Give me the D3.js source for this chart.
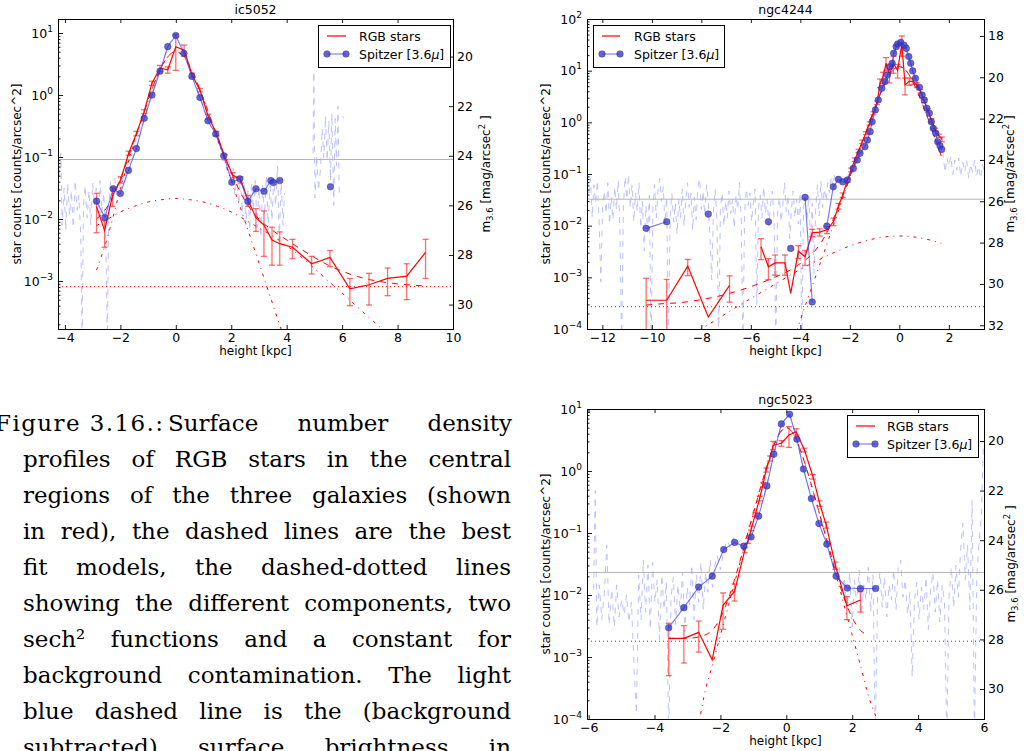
<!DOCTYPE html>
<html>
<head>
<meta charset="utf-8">
<script src="https://cdn.jsdelivr.net/npm/d3@7"></script>
<style>
  html, body { margin: 0; padding: 0; background: #fff; }
  svg { display: block; }
</style>
</head>
<body>
<svg id="fig" width="1025" height="751"></svg>
<script>
// ---------------------------------------------------------------------------
// Data: height [kpc]; RGB star counts [counts/arcsec^2] as [h, value, error];
// Spitzer 3.6 micron profiles in m_3.6 [mag/arcsec^2] (null = no value).
// ---------------------------------------------------------------------------

// ----- IC 5052 -----
const ic5052Rgb = [
  [-2.86, 0.016, 0.010], [-2.57, 0.0065, 0.003], [-2.28, 0.024, 0.008], [-1.99, 0.043, 0.005],
  [-1.70, 0.115, 0.009], [-1.42, 0.24, 0.02], [-1.14, 0.54, 0.04], [-0.86, 1.55, 0.12],
  [-0.57, 2.7, 0.3], [-0.29, 2.55, 0.3], [0.00, 6.0, 3.5], [0.30, 5.3, 1.1],
  [0.59, 2.1, 0.15], [0.87, 1.2, 0.08], [1.17, 0.45, 0.04], [1.47, 0.24, 0.02],
  [1.77, 0.10, 0.01], [2.05, 0.051, 0.005], [2.34, 0.043, 0.005], [2.61, 0.020, 0.004],
  [2.89, 0.0105, 0.0042], [3.18, 0.0080, 0.0055], [3.47, 0.0046, 0.0028], [3.75, 0.0040, 0.0022],
  [4.21, 0.0035, 0.0012], [4.90, 0.0019, 0.0006], [5.56, 0.0024, 0.0007], [6.28, 0.00075, 0.00035],
  [6.97, 0.00087, 0.00046], [7.64, 0.0011, 0.00052], [8.33, 0.0012, 0.0007], [9.01, 0.0029, 0.0018]
];
const ic5052Spitzer = [
  [-2.86, 25.83], [-2.56, 26.49], [-2.26, 25.33], [-2.00, 25.52], [-1.71, 24.59], [-1.42, 23.71],
  [-1.14, 22.49], [-0.86, 21.55], [-0.57, 20.59], [-0.29, 19.60], [0.00, 19.15], [0.29, 19.87],
  [0.58, 20.80], [0.87, 21.65], [1.16, 22.59], [1.44, 23.12], [1.73, 24.00], [2.02, 25.07],
  [2.31, 24.93], [2.60, 25.84], [2.89, 25.33], [3.18, 25.43], [3.43, 25.00], [3.52, 25.08],
  [3.75, 25.00], [4.60, null], [5.58, 25.25]
];
const ic5052Sb = [
  [-4.25, 23.6], [-4.20, 24.8], [-4.15, 23.9], [-4.10, 26.8], [-4.03, 25.3], [-3.97, 27.0],
  [-3.90, 25.1], [-3.83, 26.4], [-3.77, 25.4], [-3.70, 26.9], [-3.63, 25.0], [-3.56, 26.2],
  [-3.50, 25.6], [-3.43, 27.2], [-3.38, 31.5], [-3.33, 26.0], [-3.27, 25.2], [-3.20, 26.5],
  [-3.13, 25.4], [-3.07, 26.8], [-3.00, 25.1], [-2.93, 26.0], [-2.87, 25.3], [-2.80, 26.6],
  [-2.73, 25.0], [-2.67, 26.3], [-2.60, 25.5], [-2.53, 27.0], [-2.47, 31.5], [-2.42, 26.2],
  [-2.35, 25.0], [-2.28, 25.8], [-2.20, 24.9], [-2.13, 25.6], [-2.07, 24.8], [-2.00, 25.4],
  [-1.93, 24.9], [-1.85, 25.1], [-1.78, 24.7], [-1.70, 24.6], [-1.60, 24.3], [-1.50, 23.9],
  [-1.40, 23.6], [-1.20, 22.8], [-1.00, 22.0], [-0.80, 21.3], [-0.60, 20.6], [-0.40, 20.0],
  [-0.20, 19.4], [0.00, 19.1], [0.20, 19.5], [0.40, 20.2], [0.60, 20.8], [0.80, 21.4],
  [1.00, 22.0], [1.20, 22.7], [1.40, 23.1], [1.60, 23.6], [1.75, 24.1], [1.85, 24.6],
  [1.92, 24.2], [2.00, 25.1], [2.07, 24.5], [2.13, 25.6], [2.20, 24.8], [2.27, 26.0],
  [2.33, 24.9], [2.40, 26.3], [2.47, 25.2], [2.53, 26.8], [2.60, 25.4], [2.67, 27.0],
  [2.73, 25.1], [2.80, 26.2], [2.87, 25.0], [2.93, 26.9], [3.00, 25.3], [3.07, 27.3],
  [3.13, 25.2], [3.20, 26.4], [3.27, 24.8], [3.33, 27.0], [3.40, 25.0], [3.47, 26.6],
  [3.53, 24.9], [3.60, 26.0], [3.67, 24.4], [3.73, 27.4], [3.80, 25.1], [3.87, 26.8],
  [3.92, 25.5], [4.40, null], [4.95, 23.9], [4.98, 20.6], [5.02, 25.7], [5.08, 24.0],
  [5.15, 25.4], [5.22, 24.5], [5.28, 22.9], [5.34, 24.1], [5.40, 22.4], [5.46, 24.2],
  [5.52, 22.6], [5.58, 25.0], [5.63, 22.3], [5.70, 26.0], [5.75, 22.5], [5.80, 24.4],
  [5.85, 22.0], [5.90, 25.7], [5.96, null], [6.02, 22.4], [6.06, 22.5]
];
const ic5052FitTotal = [
  [-2.86, 0.010], [-2.5, 0.015], [-2.0, 0.044], [-1.5, 0.187], [-1.0, 0.82], [-0.75, 1.67],
  [-0.5, 2.93], [-0.25, 4.35], [0.0, 5.02], [0.25, 4.35], [0.5, 2.93], [0.75, 1.67],
  [1.0, 0.863], [1.5, 0.21], [2.0, 0.056], [2.5, 0.0196], [3.0, 0.010], [3.5, 0.0065],
  [4.0, 0.0046], [4.5, 0.0033], [5.0, 0.0024], [5.5, 0.0018], [6.0, 0.00144], [6.5, 0.0012],
  [7.0, 0.00105], [7.5, 0.00096], [8.0, 0.0009], [8.5, 0.00086], [9.01, 0.00083]
];
const ic5052FitThin = [
  [-2.86, 0.0015], [-2.5, 0.0045], [-2.0, 0.030], [-1.5, 0.17], [-1.0, 0.80], [-0.75, 1.65],
  [-0.5, 2.91], [-0.25, 4.33], [0.0, 5.0], [0.25, 4.33], [0.5, 2.91], [0.75, 1.65],
  [1.0, 0.843], [1.5, 0.194], [2.0, 0.042], [2.5, 0.0091], [3.0, 0.00196], [3.5, 0.00042],
  [3.8, 0.000167], [3.95, 0.00011]
];
const ic5052FitThick = [
  [-2.86, 0.0078], [-2.5, 0.0097], [-2.0, 0.013], [-1.5, 0.016], [-1.0, 0.0188], [-0.5, 0.0205],
  [0.0, 0.0215], [0.5, 0.0205], [1.0, 0.0188], [1.5, 0.016], [2.0, 0.013], [2.5, 0.0097],
  [3.0, 0.0072], [3.5, 0.0053], [4.0, 0.0037], [4.5, 0.0025], [5.0, 0.0016], [5.5, 0.0010],
  [6.0, 0.00064], [6.5, 0.0004], [7.0, 0.00025], [7.5, 0.00016]
];
const ic5052Background = 0.00081;
const ic5052SbLimit = 24.15;

// ----- NGC 4244 -----
const ngc4244Rgb = [
  [-10.23, 0.00036, 0.0006], [-9.40, 0.00036, 0.00055], [-8.55, 0.00165, 0.00057], [-7.72, 0.00017, 0],
  [-6.86, 0.0007, 0.00037], [-6.20, null, 0],
  [-5.59, 0.0039, 0.0017], [-5.29, 0.0016, 0.0007], [-5.02, 0.0019, 0.0008], [-4.62, 0.0019, 0.0008],
  [-4.39, 0.00049, 0], [-4.08, 0.0032, 0.0009], [-3.81, 0.0025, 0.0008], [-3.52, 0.0073, 0.0012],
  [-3.22, 0.0075, 0.0012], [-2.93, 0.0083, 0.0013], [-2.66, 0.012, 0.002], [-2.46, 0.024, 0.003],
  [-2.29, 0.039, 0.004], [-2.10, 0.075, 0.006], [-1.95, 0.12, 0.01], [-1.80, 0.19, 0.015],
  [-1.65, 0.28, 0.02], [-1.50, 0.42, 0.03], [-1.35, 0.62, 0.04], [-1.20, 0.95, 0.07],
  [-1.05, 1.5, 0.1], [-0.90, 2.4, 0.2], [-0.78, 5.8, 1.1], [-0.66, 7.5, 1.8],
  [-0.54, 13.9, 4.0], [-0.40, 8.3, 2.5], [-0.24, 13.9, 5.0], [-0.07, 10.2, 3.0],
  [0.10, 33.0, 14.0], [0.23, 5.3, 1.9], [0.40, 6.2, 1.0], [0.55, 6.2, 0.8],
  [0.70, 5.3, 0.6], [0.85, 4.0, 0.3], [1.00, 2.6, 0.2], [1.15, 1.7, 0.13],
  [1.30, 1.1, 0.08], [1.45, 0.72, 0.05], [1.60, 0.55, 0.04], [1.72, 0.47, 0.05]
];
const ngc4244Spitzer = [
  [-10.23, 27.31], [-9.40, 26.99], [-8.50, null], [-7.72, 26.62], [-6.50, null], [-5.29, 26.99],
  [-4.80, null], [-4.39, 28.28], [-4.10, null], [-3.81, 25.81], [-3.52, 30.87], [-3.20, null],
  [-2.93, 27.20], [-2.67, 25.30], [-2.46, 24.94], [-2.29, 25.06], [-2.10, 24.97], [-1.86, 24.41],
  [-1.70, 24.00], [-1.59, 23.68], [-1.39, 23.36], [-1.29, 23.04], [-1.18, 22.63], [-1.10, 22.15],
  [-0.97, 21.58], [-0.85, 21.10], [-0.71, 20.53], [-0.58, 20.21], [-0.48, 19.89], [-0.38, 19.49],
  [-0.29, 19.32], [-0.23, 18.84], [-0.13, 18.52], [-0.07, 18.39], [0.06, 18.31], [0.19, 18.45],
  [0.28, 18.60], [0.38, 19.00], [0.46, 19.32], [0.54, 19.69], [0.65, 20.05], [0.81, 20.48],
  [0.92, 20.86], [1.01, 21.10], [1.11, 21.50], [1.21, 21.74], [1.29, 22.15], [1.37, 22.47],
  [1.47, 22.71], [1.55, 23.12], [1.64, 23.31], [1.71, 23.49]
];
const ngc4244Sb = [
  [-12.62, 24.4], [-12.55, 25.6], [-12.48, 24.9], [-12.41, 26.8], [-12.34, 25.2], [-12.27, 26.1],
  [-12.20, 25.0], [-12.13, 27.0], [-12.06, 29.9], [-11.99, 26.3], [-11.92, 25.5], [-11.85, 26.6],
  [-11.78, 25.1], [-11.71, 27.1], [-11.64, 25.8], [-11.57, 26.9], [-11.50, 25.3], [-11.43, 26.4],
  [-11.36, 25.0], [-11.29, 27.4], [-11.22, 33.0], [-11.15, 26.2], [-11.08, 24.8], [-11.01, 25.9],
  [-10.94, 24.7], [-10.87, 26.3], [-10.80, 25.2], [-10.73, 27.0], [-10.66, 25.6], [-10.59, 26.5],
  [-10.52, 25.1], [-10.45, 27.3], [-10.38, 26.0], [-10.31, 28.4], [-10.24, 26.2], [-10.17, 27.5],
  [-10.10, 25.7], [-10.03, 33.0], [-9.96, 26.4], [-9.89, 25.2], [-9.82, 26.8], [-9.75, 25.5],
  [-9.68, 24.9], [-9.61, 26.0], [-9.54, 25.3], [-9.47, 27.1], [-9.40, 25.8], [-9.33, 33.0],
  [-9.26, 26.7], [-9.19, 25.6], [-9.12, 27.0], [-9.05, 26.1], [-8.98, 27.6], [-8.91, 25.9],
  [-8.84, 26.8], [-8.77, 25.4], [-8.70, 27.2], [-8.63, 26.0], [-8.56, 25.1], [-8.49, 26.3],
  [-8.42, 25.6], [-8.35, 27.4], [-8.28, 25.8], [-8.21, 26.9], [-8.14, 25.3], [-8.07, 24.9],
  [-8.00, 26.4], [-7.93, 25.5], [-7.86, 26.7], [-7.79, 25.2], [-7.72, 26.0], [-7.65, 27.8],
  [-7.58, 29.8], [-7.51, 26.5], [-7.44, 25.4], [-7.37, 26.9], [-7.30, 33.0], [-7.23, 26.3],
  [-7.16, 25.6], [-7.09, 27.2], [-7.02, 26.0], [-6.95, 26.8], [-6.88, 25.5], [-6.81, 26.6],
  [-6.74, 25.9], [-6.67, 27.3], [-6.60, 25.7], [-6.53, 26.4], [-6.46, 25.1], [-6.39, 26.9],
  [-6.32, 33.0], [-6.25, 26.5], [-6.18, 25.4], [-6.11, 26.2], [-6.04, 25.6], [-5.97, 27.0],
  [-5.90, 26.1], [-5.83, 25.4], [-5.76, 31.0], [-5.69, 26.3], [-5.62, 25.7], [-5.55, 26.8],
  [-5.48, 25.3], [-5.41, 26.6], [-5.34, 25.9], [-5.27, 27.2], [-5.20, 26.1], [-5.13, 25.5],
  [-5.06, 26.9], [-4.99, 33.0], [-4.92, 26.6], [-4.85, 25.8], [-4.78, 27.0], [-4.71, 26.2],
  [-4.64, 25.1], [-4.57, 26.5], [-4.50, 25.7], [-4.43, 27.8], [-4.36, 26.4], [-4.29, 25.5],
  [-4.22, 26.8], [-4.15, 25.9], [-4.08, 27.1], [-4.01, 25.6], [-3.94, 33.0], [-3.87, 26.3],
  [-3.80, 25.8], [-3.73, 26.9], [-3.66, 25.7], [-3.59, 28.0], [-3.52, 26.1], [-3.45, 29.5],
  [-3.38, 26.4], [-3.31, 25.2], [-3.24, 26.7], [-3.17, 25.0], [-3.10, 26.3], [-3.03, 25.4],
  [-2.96, 26.0], [-2.89, 25.1], [-2.82, 25.6], [-2.75, 24.8], [-2.68, 25.3], [-2.61, 24.7],
  [-2.54, 25.0], [-2.47, 24.8], [-2.40, 25.1], [-2.30, 24.9], [-2.20, 25.0], [-2.10, 24.8],
  [-1.90, 24.5], [-1.70, 23.9], [-1.50, 23.3], [-1.30, 22.9], [-1.10, 22.1], [-0.90, 21.3],
  [-0.70, 20.5], [-0.50, 19.9], [-0.30, 19.2], [-0.10, 18.5], [0.05, 18.3], [0.20, 18.5],
  [0.40, 19.1], [0.60, 19.9], [0.80, 20.5], [1.00, 21.1], [1.20, 21.8], [1.40, 22.5],
  [1.60, 23.2], [1.75, 23.6], [1.85, 24.6], [1.92, 23.9], [2.00, 24.3], [2.08, 23.8],
  [2.16, 24.7], [2.24, 24.0], [2.32, 24.5], [2.40, 23.9], [2.48, 24.8], [2.56, 24.1],
  [2.64, 24.6], [2.72, 24.0], [2.80, 24.9], [2.88, 24.2], [2.96, 24.6], [3.04, 24.0],
  [3.12, 24.8], [3.20, 24.3], [3.28, 24.9], [3.36, 24.2], [3.42, 24.5]
];
const ngc4244FitTotal = [
  [-10.23, 0.00029], [-9.5, 0.00031], [-9.0, 0.00032], [-8.0, 0.00037], [-7.0, 0.00047],
  [-6.0, 0.00066], [-5.0, 0.00102], [-4.5, 0.00131], [-4.0, 0.00185], [-3.5, 0.0029],
  [-3.0, 0.0063], [-2.5, 0.0207], [-2.0, 0.088], [-1.5, 0.41], [-1.0, 1.87], [-0.5, 6.76],
  [-0.25, 10.3], [0.0, 12.0], [0.25, 10.3], [0.5, 6.76], [1.0, 1.87], [1.5, 0.41], [1.75, 0.189]
];
const ngc4244FitThin = [
  [-4.15, 0.00009], [-4.0, 0.00015], [-3.5, 0.00072], [-3.0, 0.0035], [-2.5, 0.0172],
  [-2.0, 0.0835], [-1.5, 0.405], [-1.0, 1.86], [-0.5, 6.75], [-0.25, 10.3], [0.0, 12.0],
  [0.25, 10.3], [0.5, 6.75], [1.0, 1.86], [1.5, 0.405], [1.75, 0.184]
];
const ngc4244FitThick = [
  [-8.1, 0.000094], [-7.5, 0.000141], [-7.0, 0.0002], [-6.5, 0.00028], [-6.0, 0.00039],
  [-5.5, 0.00054], [-5.0, 0.00075], [-4.5, 0.00104], [-4.0, 0.00143], [-3.5, 0.0019],
  [-3.0, 0.0025], [-2.5, 0.00323], [-2.0, 0.00405], [-1.5, 0.00487], [-1.0, 0.0056],
  [-0.5, 0.00612], [0.0, 0.0063], [0.5, 0.00612], [1.0, 0.0056], [1.5, 0.00487], [1.7, 0.00455]
];
const ngc4244Background = 0.00027;
const ngc4244SbLimit = 25.9;

// ----- NGC 5023 -----
const ngc5023Rgb = [
  [-3.57, 0.0020, 0.0015], [-3.11, 0.0020, 0.0012], [-2.66, 0.0025, 0.0013], [-2.25, 0.0009, 0],
  [-1.92, 0.0068, 0.0040], [-1.57, 0.0115, 0.0035], [-1.26, 0.053, 0.005], [-1.16, 0.075, 0.007],
  [-1.06, 0.119, 0.01], [-0.94, 0.2, 0.015], [-0.81, 0.36, 0.03], [-0.71, 0.6, 0.05],
  [-0.61, 1.04, 0.08], [-0.50, 1.6, 0.15], [-0.40, 2.6, 0.4], [-0.15, 2.8, 0.3],
  [0.08, 3.8, 1.4], [0.30, 4.3, 0.5], [0.55, 2.18, 0.15], [0.81, 0.81, 0.07],
  [1.01, 0.30, 0.03], [1.21, 0.135, 0.015], [1.49, 0.030, 0.004], [1.84, 0.0067, 0.0027],
  [2.25, 0.0083, 0.003]
];
const ngc5023Spitzer = [
  [-3.57, 27.53], [-3.11, 26.72], [-2.66, 25.89], [-2.25, 25.45], [-1.90, 24.38], [-1.57, 24.09],
  [-1.29, 24.24], [-1.07, 23.87], [-0.84, 23.03], [-0.59, 21.81], [-0.38, 20.53], [-0.15, 19.31],
  [0.10, 18.92], [0.32, 19.93], [0.52, 21.13], [0.76, 22.32], [0.99, 23.33], [1.23, 24.16],
  [1.51, 25.45], [1.85, 25.93], [2.25, 25.95], [2.71, 25.95]
];
const ngc5023Sb = [
  [-5.85, 26.0], [-5.80, 22.0], [-5.75, 27.5], [-5.68, 25.8], [-5.60, 27.2], [-5.52, 26.1],
  [-5.45, 24.2], [-5.38, 27.4], [-5.30, 26.0], [-5.22, 27.5], [-5.15, 25.8], [-5.08, 27.1],
  [-5.00, 26.4], [-4.92, 27.0], [-4.85, 26.2], [-4.78, 27.3], [-4.70, 26.5], [-4.62, 29.2],
  [-4.55, 31.0], [-4.48, 25.4], [-4.41, 27.2], [-4.34, 24.8], [-4.27, 26.9], [-4.20, 25.0],
  [-4.13, 27.6], [-4.06, 24.9], [-3.99, 26.5], [-3.92, 25.6], [-3.85, 28.0], [-3.78, 25.4],
  [-3.71, 26.8], [-3.64, 25.7], [-3.57, 32.0], [-3.50, 26.3], [-3.43, 25.5], [-3.36, 27.4],
  [-3.29, 25.8], [-3.22, 26.9], [-3.15, 25.3], [-3.08, 27.7], [-3.01, 25.9], [-2.94, 26.6],
  [-2.87, 25.0], [-2.80, 27.2], [-2.73, 25.4], [-2.66, 26.5], [-2.59, 24.9], [-2.52, 26.8],
  [-2.45, 25.3], [-2.38, 26.1], [-2.31, 24.8], [-2.24, 25.9], [-2.17, 25.0], [-2.10, 24.6],
  [-2.00, 25.2], [-1.90, 24.4], [-1.80, 24.0], [-1.70, 24.3], [-1.60, 23.9], [-1.50, 24.2],
  [-1.40, 24.0], [-1.30, 24.3], [-1.20, 24.0], [-1.10, 23.8], [-0.95, 23.4], [-0.80, 22.8],
  [-0.60, 21.8], [-0.40, 20.6], [-0.20, 19.6], [0.00, 19.0], [0.10, 18.95], [0.30, 19.8],
  [0.50, 21.0], [0.70, 22.0], [0.90, 22.9], [1.10, 23.7], [1.30, 24.5], [1.50, 25.4],
  [1.60, 25.0], [1.68, 26.2], [1.76, 25.5], [1.84, 26.8], [1.92, 25.3], [2.00, 27.5],
  [2.07, 25.6], [2.14, 26.6], [2.21, 25.2], [2.28, 27.0], [2.35, 25.8], [2.42, 26.4],
  [2.49, 25.1], [2.56, 26.9], [2.63, 25.4], [2.70, 32.0], [2.77, 26.2], [2.84, 25.3],
  [2.91, 26.7], [2.98, 25.5], [3.05, 27.1], [3.12, 25.8], [3.19, 26.4], [3.26, 25.2],
  [3.33, 26.8], [3.40, 25.0], [3.47, 24.8], [3.54, 26.3], [3.61, 25.6], [3.68, 27.0],
  [3.75, 26.1], [3.82, 29.5], [3.89, 26.4], [3.96, 25.7], [4.03, 27.2], [4.10, 25.9],
  [4.17, 26.8], [4.24, 25.5], [4.31, 27.6], [4.38, 26.0], [4.45, 25.3], [4.52, 26.9],
  [4.59, 25.6], [4.66, 27.3], [4.73, 25.8], [4.80, 26.5], [4.87, 32.0], [4.94, 26.2],
  [5.01, 25.1], [5.08, 26.7], [5.15, 25.0], [5.22, 26.3], [5.29, 24.4], [5.36, 23.3],
  [5.43, 25.6], [5.50, 24.2], [5.57, 26.8], [5.64, 22.4], [5.71, 32.0], [5.78, 25.5],
  [5.85, 24.1], [5.92, 23.0], [5.98, 20.0]
];
const ngc5023FitTotal = [
  [-3.57, 0.0020], [-3.0, 0.0020], [-2.5, 0.00223], [-2.25, 0.0027], [-2.0, 0.0043],
  [-1.75, 0.009], [-1.5, 0.0238], [-1.25, 0.07], [-1.0, 0.21], [-0.75, 0.62], [-0.5, 1.69],
  [-0.25, 3.68], [0.0, 5.0], [0.25, 3.68], [0.5, 1.69], [0.75, 0.62], [1.0, 0.21],
  [1.25, 0.07], [1.5, 0.0238], [1.75, 0.009], [2.0, 0.0043], [2.25, 0.0027], [2.52, 0.0022]
];
const ngc5023FitThin = [
  [-2.6, 0.00012], [-2.5, 0.00023], [-2.25, 0.00073], [-2.0, 0.00225], [-1.75, 0.007],
  [-1.5, 0.0218], [-1.25, 0.068], [-1.0, 0.208], [-0.75, 0.62], [-0.5, 1.69], [-0.25, 3.68],
  [0.0, 5.0], [0.25, 3.68], [0.5, 1.69], [0.75, 0.62], [1.0, 0.208], [1.25, 0.068],
  [1.5, 0.0218], [1.75, 0.007], [2.0, 0.00225], [2.25, 0.00073], [2.5, 0.00023], [2.72, 0.00011]
];
const ngc5023FitThick = [];
const ngc5023Background = 0.0018;
const ngc5023SbLimit = 25.3;

// Tick values
const ic5052HeightTicks = [-4, -2, 0, 2, 4, 6, 8, 10];
const ngc4244HeightTicks = [-12, -10, -8, -6, -4, -2, 0, 2];
const ngc5023HeightTicks = [-6, -4, -2, 0, 2, 4, 6];
const ic5052CountExps = [-3, -2, -1, 0, 1];
const ngc4244CountExps = [-4, -3, -2, -1, 0, 1, 2];
const ngc5023CountExps = [-4, -3, -2, -1, 0, 1];
const ic5052MagTicks = [20, 22, 24, 26, 28, 30];
const ngc4244MagTicks = [18, 20, 22, 24, 26, 28, 30, 32];
const ngc5023MagTicks = [20, 22, 24, 26, 28, 30];

// Caption
const captionText = [
  "Figure 3.16.: Surface number density",
  "profiles of RGB stars in the central",
  "regions of the three galaxies (shown",
  "in red), the dashed lines are the best",
  "fit models, the dashed-dotted lines",
  "showing the different components, two",
  "sech\u00B2 functions and a constant for",
  "background contamination. The light",
  "blue dashed line is the (background",
  "subtracted) surface brightness in"
];

// ---------------------------------------------------------------------------
// Panel layout
// ---------------------------------------------------------------------------
const panels = [
  {
    name: "ic5052", frame: { x: 58, y: 19, w: 395, h: 310 },
    xDomain: [-4.25, 10], yDomain: [Math.pow(10, -3.774), Math.pow(10, 1.226)], zp: 21.55,
    xTicks: ic5052HeightTicks, yExps: ic5052CountExps, magTicks: ic5052MagTicks,
    rgb: ic5052Rgb, spitzer: ic5052Spitzer, sb: ic5052Sb,
    fitTotal: ic5052FitTotal, fitThin: ic5052FitThin, fitThick: ic5052FitThick,
    background: ic5052Background, sbLimit: ic5052SbLimit,
    titleY: 14, xLabelY: 355, yLabelX: 21, magLabelX: 490,
    legend: { x: 318, y: 25, w: 132, h: 42, s0: 327, s1: 346, tx: 359 }
  },
  {
    name: "ngc4244", frame: { x: 587, y: 19, w: 397, h: 310 },
    xDomain: [-12.62, 3.42], yDomain: [1e-4, 1e2], zp: 22.18,
    xTicks: ngc4244HeightTicks, yExps: ngc4244CountExps, magTicks: ngc4244MagTicks,
    rgb: ngc4244Rgb, spitzer: ngc4244Spitzer, sb: ngc4244Sb,
    fitTotal: ngc4244FitTotal, fitThin: ngc4244FitThin, fitThick: ngc4244FitThick,
    background: ngc4244Background, sbLimit: ngc4244SbLimit,
    titleY: 14, xLabelY: 355, yLabelX: 550, magLabelX: 1014,
    legend: { x: 593, y: 25, w: 131, h: 42, s0: 602, s1: 620, tx: 634 }
  },
  {
    name: "ngc5023", frame: { x: 587, y: 409, w: 397, h: 310 },
    xDomain: [-6.05, 6], yDomain: [1e-4, 1e1], zp: 21.21,
    xTicks: ngc5023HeightTicks, yExps: ngc5023CountExps, magTicks: ngc5023MagTicks,
    rgb: ngc5023Rgb, spitzer: ngc5023Spitzer, sb: ngc5023Sb,
    fitTotal: ngc5023FitTotal, fitThin: ngc5023FitThin, fitThick: ngc5023FitThick,
    background: ngc5023Background, sbLimit: ngc5023SbLimit,
    titleY: 404, xLabelY: 745, yLabelX: 550, magLabelX: 1015,
    legend: { x: 847, y: 415, w: 131, h: 42, s0: 856, s1: 875, tx: 887 }
  }
];

const SANS = "'DejaVu Sans', 'Bitstream Vera Sans', sans-serif";
const RED = "#ff0000";
const BLUE_LINE = "#3c3cf5";
const BLUE_DOT = "#3a3acb";
const SB_BLUE = "#b6baff";

const fig = d3.select("#fig");
const defs = fig.append("defs");

function minusFmt(d) { return d < 0 ? "\u2212" + Math.abs(d) : String(d); }

function styleAxis(g) {
  g.select(".domain").remove();
  g.attr("font-family", SANS).attr("font-size", 12.5);
  g.selectAll(".tick line").attr("stroke", "#000").attr("stroke-width", 0.9);
  g.selectAll(".tick text").attr("fill", "#000");
}

function drawPanel(p, idx) {
  const fr = p.frame;
  const xs = d3.scaleLinear().domain(p.xDomain).range([fr.x, fr.x + fr.w]);
  const ys = d3.scaleLog().domain(p.yDomain).range([fr.y + fr.h, fr.y]);
  const toMag = c => p.zp - 2.5 * Math.log10(c);
  const ms = d3.scaleLinear().domain([toMag(p.yDomain[1]), toMag(p.yDomain[0])]).range([fr.y, fr.y + fr.h]);

  const clipId = "clip-" + p.name;
  defs.append("clipPath").attr("id", clipId)
    .append("rect").attr("x", fr.x).attr("y", fr.y).attr("width", fr.w).attr("height", fr.h);

  const g = fig.append("g").attr("class", "panel " + p.name);
  const plot = g.append("g").attr("clip-path", `url(#${clipId})`);

  // background-subtracted surface brightness profile (light blue, dashed)
  const sbLine = d3.line().defined(d => d[1] !== null).x(d => xs(d[0])).y(d => ms(d[1]));
  plot.append("path").attr("d", sbLine(p.sb))
    .attr("fill", "none").attr("stroke", SB_BLUE).attr("stroke-width", 0.9)
    .attr("stroke-dasharray", "6,6");

  // surface brightness limit (grey)
  plot.append("line")
    .attr("x1", fr.x).attr("x2", fr.x + fr.w)
    .attr("y1", ms(p.sbLimit)).attr("y2", ms(p.sbLimit))
    .attr("stroke", "#b4b4b4").attr("stroke-width", 1);

  // constant background contamination (dotted)
  plot.append("line")
    .attr("x1", fr.x).attr("x2", fr.x + fr.w)
    .attr("y1", ys(p.background)).attr("y2", ys(p.background))
    .attr("stroke", RED).attr("stroke-width", 1).attr("stroke-dasharray", "1,3");

  // model components (dash-dot) and total fit (dashed)
  const modelLine = d3.line().x(d => xs(d[0])).y(d => ys(d[1])).curve(d3.curveMonotoneX);
  [p.fitThin, p.fitThick].forEach(arr => {
    if (!arr.length) return;
    plot.append("path").attr("d", modelLine(arr))
      .attr("fill", "none").attr("stroke", RED).attr("stroke-width", 1)
      .attr("stroke-dasharray", "3,5,1,5");
  });
  plot.append("path").attr("d", modelLine(p.fitTotal))
    .attr("fill", "none").attr("stroke", RED).attr("stroke-width", 1)
    .attr("stroke-dasharray", "6,6");

  // RGB star counts with error bars
  const rgbPts = p.rgb.filter(d => d[1] !== null);
  const floor = p.yDomain[0] / 20;
  const eb = plot.append("g").attr("stroke", "#ff2a2a").attr("stroke-opacity", 0.68).attr("stroke-width", 1.3);
  rgbPts.filter(d => d[2] > 0).forEach(d => {
    const top = d[1] + d[2];
    const lowOk = d[1] - d[2] > 0;
    const bot = lowOk ? d[1] - d[2] : floor;
    const cx = xs(d[0]);
    eb.append("line").attr("x1", cx).attr("x2", cx).attr("y1", ys(top)).attr("y2", ys(bot));
    eb.append("line").attr("x1", cx - 3).attr("x2", cx + 3).attr("y1", ys(top)).attr("y2", ys(top));
    if (lowOk) eb.append("line").attr("x1", cx - 3).attr("x2", cx + 3).attr("y1", ys(bot)).attr("y2", ys(bot));
  });
  const rgbLine = d3.line().defined(d => d[1] !== null).x(d => xs(d[0])).y(d => ys(d[1]));
  plot.append("path").attr("d", rgbLine(p.rgb))
    .attr("fill", "none").attr("stroke", RED).attr("stroke-width", 1.2);

  // Spitzer 3.6 micron profile
  const spLine = d3.line().defined(d => d[1] !== null).x(d => xs(d[0])).y(d => ms(d[1]));
  plot.append("path").attr("d", spLine(p.spitzer))
    .attr("fill", "none").attr("stroke", BLUE_LINE).attr("stroke-opacity", 0.7).attr("stroke-width", 1.1);
  plot.append("g").selectAll("circle")
    .data(p.spitzer.filter(d => d[1] !== null))
    .join("circle")
    .attr("cx", d => xs(d[0])).attr("cy", d => ms(d[1])).attr("r", 3.3)
    .attr("fill", BLUE_DOT).attr("fill-opacity", 0.78)
    .attr("stroke", "#26268f").attr("stroke-opacity", 0.7).attr("stroke-width", 0.6);

  // frame
  g.append("rect").attr("x", fr.x + 0.5).attr("y", fr.y + 0.5).attr("width", fr.w).attr("height", fr.h)
    .attr("fill", "none").attr("stroke", "#000").attr("stroke-width", 1);

  // bottom axis
  const gB = g.append("g").attr("transform", `translate(0,${fr.y + fr.h})`)
    .call(d3.axisBottom(xs).tickValues(p.xTicks).tickSizeInner(-4).tickSizeOuter(0)
      .tickPadding(4).tickFormat(minusFmt));
  styleAxis(gB);
  // top axis (ticks only)
  const gT = g.append("g").attr("transform", `translate(0,${fr.y})`)
    .call(d3.axisTop(xs).tickValues(p.xTicks).tickSizeInner(-4).tickSizeOuter(0).tickFormat(""));
  styleAxis(gT);

  // left log axis
  const majors = p.yExps.map(e => Math.pow(10, e));
  const gL = g.append("g").attr("transform", `translate(${fr.x},0)`)
    .call(d3.axisLeft(ys).tickValues(majors).tickSizeInner(-5).tickSizeOuter(0).tickPadding(5));
  styleAxis(gL);
  gL.selectAll(".tick text").each(function (d) {
    const t = d3.select(this);
    const e = Math.round(Math.log10(d));
    t.text(null);
    t.append("tspan").text("10");
    t.append("tspan").attr("dy", -6).attr("font-size", 9).text(e < 0 ? "\u2212" + Math.abs(e) : String(e));
  });
  const minors = [];
  const lo = Math.floor(Math.log10(p.yDomain[0])), hi = Math.ceil(Math.log10(p.yDomain[1]));
  for (let k = lo; k <= hi; k++) {
    for (let m = 2; m <= 9; m++) {
      const v = m * Math.pow(10, k);
      if (v > p.yDomain[0] && v < p.yDomain[1]) minors.push(v);
    }
  }
  const gLm = g.append("g").attr("transform", `translate(${fr.x},0)`)
    .call(d3.axisLeft(ys).tickValues(minors).tickSizeInner(-2.5).tickSizeOuter(0).tickFormat(""));
  styleAxis(gLm);

  // right magnitude axis
  const gR = g.append("g").attr("transform", `translate(${fr.x + fr.w},0)`)
    .call(d3.axisRight(ms).tickValues(p.magTicks).tickSizeInner(-4).tickSizeOuter(0).tickPadding(4));
  styleAxis(gR);

  // title and axis labels
  const cx = fr.x + fr.w / 2, cy = fr.y + fr.h / 2;
  g.append("text").attr("x", cx).attr("y", p.titleY).attr("text-anchor", "middle")
    .attr("font-family", SANS).attr("font-size", 12.5).text(p.name);
  g.append("text").attr("x", cx).attr("y", p.xLabelY).attr("text-anchor", "middle")
    .attr("font-family", SANS).attr("font-size", 12).text("height [kpc]");
  g.append("text").attr("transform", `translate(${p.yLabelX},${cy}) rotate(-90)`)
    .attr("text-anchor", "middle").attr("font-family", SANS).attr("font-size", 12)
    .text("star counts [counts/arcsec^2]");
  const mt = g.append("text").attr("transform", `translate(${p.magLabelX},${cy}) rotate(-90)`)
    .attr("text-anchor", "middle").attr("font-family", SANS).attr("font-size", 12);
  mt.append("tspan").text("m");
  mt.append("tspan").attr("font-size", 8.5).attr("dy", 3).text("3.6");
  mt.append("tspan").attr("dy", -3).text(" [mag/arcsec");
  mt.append("tspan").attr("font-size", 8.5).attr("dy", -5).text("2");
  mt.append("tspan").attr("dy", 5).text(" ]");

  // legend
  const L = p.legend;
  const lg = g.append("g");
  lg.append("rect").attr("x", L.x + 0.5).attr("y", L.y + 0.5).attr("width", L.w).attr("height", L.h)
    .attr("fill", "#fff").attr("stroke", "#000").attr("stroke-width", 1);
  const r1 = L.y + 11, r2 = L.y + 29;
  lg.append("line").attr("x1", L.s0).attr("x2", L.s1).attr("y1", r1).attr("y2", r1)
    .attr("stroke", RED).attr("stroke-width", 1.2);
  lg.append("text").attr("x", L.tx).attr("y", r1 + 4.5).attr("font-family", SANS).attr("font-size", 12.5)
    .text("RGB stars");
  lg.append("line").attr("x1", L.s0).attr("x2", L.s1).attr("y1", r2).attr("y2", r2)
    .attr("stroke", BLUE_LINE).attr("stroke-opacity", 0.7).attr("stroke-width", 1.1);
  [L.s0, L.s1].forEach(sx => {
    lg.append("circle").attr("cx", sx).attr("cy", r2).attr("r", 3.3)
      .attr("fill", BLUE_DOT).attr("fill-opacity", 0.78)
      .attr("stroke", "#26268f").attr("stroke-opacity", 0.7).attr("stroke-width", 0.6);
  });
  const st = lg.append("text").attr("x", L.tx).attr("y", r2 + 4.5).attr("font-family", SANS).attr("font-size", 12.5);
  st.append("tspan").text("Spitzer [3.6");
  st.append("tspan").attr("font-style", "italic").text("\u03BC");
  st.append("tspan").text("]");
}

panels.forEach(drawPanel);

// ---------------------------------------------------------------------------
// Caption, fully justified
// ---------------------------------------------------------------------------
const cap = fig.append("g").attr("font-family", "'DejaVu Serif', serif").attr("font-size", 23).attr("fill", "#000");
captionText.forEach((line, i) => {
  const yb = 431 + 36 * i;
  let words = line.split(" ");
  let x0 = 23, x1 = 511;
  if (i === 0) {
    cap.append("text").attr("x", -5).attr("y", yb)
      .attr("textLength", 168).attr("lengthAdjust", "spacing")
      .text(words.slice(0, 2).join(" "));
    words = words.slice(2);
    x0 = 168; x1 = 512;
  }
  const nodes = words.map(w => cap.append("text").attr("y", yb).text(w));
  const widths = nodes.map(n => n.node().getComputedTextLength());
  const gap = (x1 - x0 - d3.sum(widths)) / Math.max(1, words.length - 1);
  let x = x0;
  nodes.forEach((n, k) => { n.attr("x", x); x += widths[k] + gap; });
});
</script>
</body>
</html>
